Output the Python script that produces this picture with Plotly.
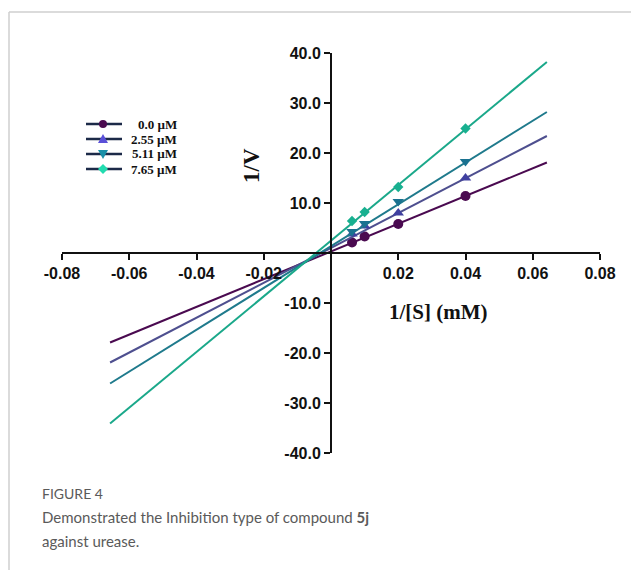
import plotly.graph_objects as go

# ---- data ----
inv_s = [0.00625, 0.01, 0.02, 0.04]          # 1/[S]
series_names = ["0.0 µM", "2.55 µM", "5.11 µM", "7.65 µM"]
inv_v_0 = [2.1, 3.3, 5.8, 11.4]
inv_v_255 = [3.8, 5.4, 8.0, 15.0]
inv_v_511 = [4.3, 5.9, 10.3, 18.3]
inv_v_765 = [6.4, 8.2, 13.2, 24.9]
fit_x = [-0.0657, 0.0642]                     # extent of the fitted lines
fit_0 = [-17.9, 18.1]
fit_255 = [-21.9, 23.4]
fit_511 = [-26.1, 28.2]
fit_765 = [-34.1, 38.2]
x_ticks = [-0.08, -0.06, -0.04, -0.02, 0.02, 0.04, 0.06, 0.08]
y_ticks = [-40, -30, -20, -10, 10, 20, 30, 40]

points = [inv_v_0, inv_v_255, inv_v_511, inv_v_765]
fits = [fit_0, fit_255, fit_511, fit_765]
line_colors = ["#4a0a50", "#4e4f8f", "#1f7a8c", "#1aa88a"]
marker_colors = ["#4a0a50", "#4040a0", "#1a7290", "#18b090"]
legend_marker_colors = ["#4a0a50", "#5a50d8", "#1a90a8", "#22dcb0"]
symbols = ["circle", "triangle-up", "triangle-down", "diamond"]
msizes = [10, 10, 10, 8]

OFF = 8                      # browser body margin
W, H = 639 - OFF, 570 - OFF
L, T = 62 - OFF, 53 - OFF
pw, ph = 538, 400
R, B = W - L - pw, H - T - ph

def px(x):
    """page x pixel -> paper fraction"""
    return (x - OFF - L) / pw

def py(y):
    """page y pixel -> paper fraction"""
    return 1 - (y - OFF - T) / ph

fig = go.Figure()
for i in range(4):
    fig.add_trace(go.Scatter(x=fit_x, y=fits[i], mode="lines",
                             line=dict(color=line_colors[i], width=2),
                             showlegend=False, hoverinfo="skip"))
    fig.add_trace(go.Scatter(x=inv_s, y=points[i], mode="markers", name=series_names[i],
                             marker=dict(color=marker_colors[i], symbol=symbols[i],
                                         size=msizes[i]),
                             showlegend=False))

axis_font = dict(family="Liberation Sans, Arial", size=16, color="#111111")
fig.update_layout(
    width=W, height=H,
    margin=dict(l=L, r=R, t=T, b=B, autoexpand=False),
    paper_bgcolor="white", plot_bgcolor="white",
    showlegend=False,
    xaxis=dict(range=[-0.08, 0.08], tickvals=x_ticks,
               ticktext=["<b>%.2f</b>" % v for v in x_ticks],
               showgrid=False, zeroline=False, showline=True, linecolor="#111111",
               linewidth=2, ticks="outside", ticklen=6, tickwidth=2, tickcolor="#111111",
               anchor="free", position=0.5, tickfont=axis_font, fixedrange=True),
    yaxis=dict(range=[-40, 40], tickvals=y_ticks,
               ticktext=["<b>%.1f</b>" % v for v in y_ticks],
               showgrid=False, zeroline=False, showline=True, linecolor="#111111",
               linewidth=2, ticks="outside", ticklen=6, tickwidth=2, tickcolor="#111111",
               anchor="free", position=0.5, tickfont=axis_font, fixedrange=True),
)

# ---- hand-drawn legend (compact, like the original) ----
leg_y = [124, 139, 154, 169]
lx0, lx1, mx = 86, 122, 103
for i in range(4):
    y = leg_y[i]
    fig.add_shape(type="line", xref="paper", yref="paper", x0=px(lx0), x1=px(lx1),
                  y0=py(y), y1=py(y), line=dict(color="#1c2a48", width=2.5))
    c = legend_marker_colors[i]
    s = symbols[i]
    if s == "circle":
        r = 4
        fig.add_shape(type="circle", xref="paper", yref="paper",
                      x0=px(mx - r), x1=px(mx + r), y0=py(y + r), y1=py(y - r),
                      fillcolor=c, line=dict(color=c, width=0))
    elif s == "triangle-up":
        p = "M %f %f L %f %f L %f %f Z" % (px(mx - 5), py(y + 4), px(mx + 5), py(y + 4),
                                          px(mx), py(y - 5))
        fig.add_shape(type="path", xref="paper", yref="paper", path=p,
                      fillcolor=c, line=dict(color=c, width=0))
    elif s == "triangle-down":
        p = "M %f %f L %f %f L %f %f Z" % (px(mx - 5), py(y - 4), px(mx + 5), py(y - 4),
                                          px(mx), py(y + 5))
        fig.add_shape(type="path", xref="paper", yref="paper", path=p,
                      fillcolor=c, line=dict(color=c, width=0))
    else:
        p = "M %f %f L %f %f L %f %f L %f %f Z" % (px(mx - 5), py(y), px(mx), py(y - 5),
                                                  px(mx + 5), py(y), px(mx), py(y + 5))
        fig.add_shape(type="path", xref="paper", yref="paper", path=p,
                      fillcolor=c, line=dict(color=c, width=0))
    fig.add_annotation(text="<b>%s</b>" % series_names[i], xref="paper", yref="paper",
                       x=px(179), y=py(y), xanchor="right", yanchor="middle", showarrow=False,
                       font=dict(family="Liberation Serif, Times New Roman", size=13,
                                 color="#111111"))

fig.add_annotation(text="<b>1/V</b>", xref="paper", yref="paper", x=px(251), y=py(166),
                   xanchor="center", yanchor="middle", textangle=-90, showarrow=False,
                   font=dict(family="Liberation Serif, Times New Roman", size=23, color="#111111"))
fig.add_annotation(text="<b>1/[S] (mM)</b>", xref="paper", yref="paper", x=px(438), y=py(312),
                   xanchor="center", yanchor="middle", showarrow=False,
                   font=dict(family="Liberation Serif, Times New Roman", size=21, color="#111111"))

cap_font = "Lato, Open Sans"
fig.add_annotation(text="FIGURE 4", xref="paper", yref="paper", x=px(40), y=py(493),
                   xanchor="left", yanchor="middle", showarrow=False,
                   font=dict(family=cap_font, size=14, color="#5a5a5a"))
fig.add_annotation(text="Demonstrated the Inhibition type of compound <b>5j</b>",
                   xref="paper", yref="paper", x=px(40), y=py(517),
                   xanchor="left", yanchor="middle", showarrow=False,
                   font=dict(family=cap_font, size=15, color="#5a5a5a"))
fig.add_annotation(text="against urease.", xref="paper", yref="paper", x=px(40), y=py(541),
                   xanchor="left", yanchor="middle", showarrow=False,
                   font=dict(family=cap_font, size=15, color="#5a5a5a"))

# card border (top and left)
fig.add_shape(type="line", xref="paper", yref="paper", x0=px(9), x1=px(645), y0=py(12), y1=py(12),
              line=dict(color="#cfcfcf", width=1.5))
fig.add_shape(type="line", xref="paper", yref="paper", x0=px(9), x1=px(9), y0=py(12), y1=py(575),
              line=dict(color="#cfcfcf", width=1.5))

fig.write_html("out.html")
